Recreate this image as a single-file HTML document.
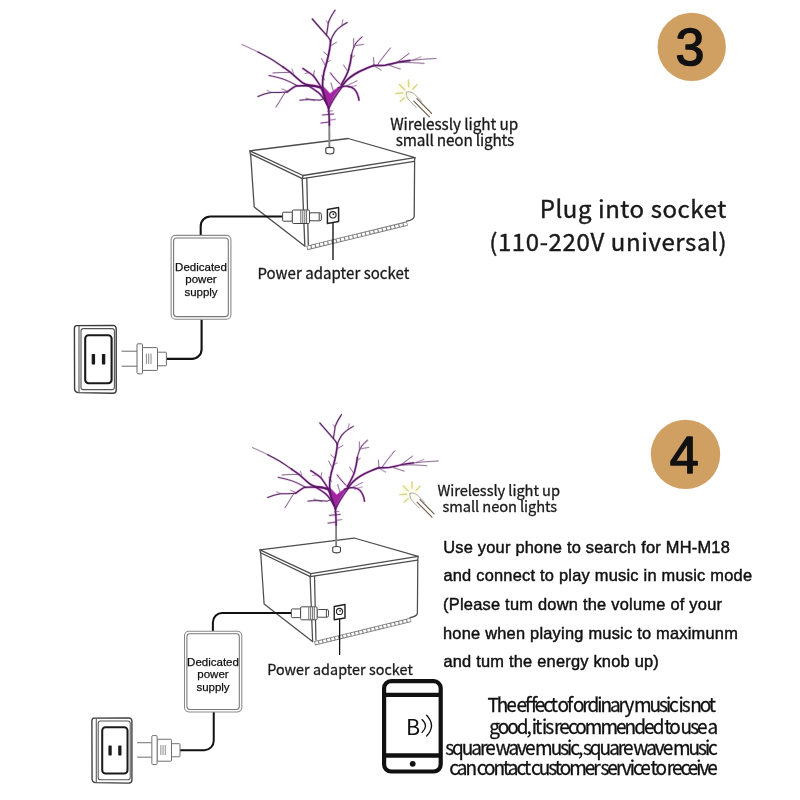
<!DOCTYPE html>
<html><head><meta charset="utf-8"><title>Steps 3 and 4</title>
<style>
html,body{margin:0;padding:0;background:#fff;}
body{width:800px;height:800px;overflow:hidden;}
svg{display:block;will-change:transform;}
</style></head><body>
<svg width="800" height="800" viewBox="0 0 800 800">
<rect width="800" height="800" fill="#fff"/>
<g><g fill="none" stroke="#4d4d4d" stroke-width="1.3" stroke-linejoin="round" stroke-linecap="round"><path d="M249.8,150.8 L348.2,138.5 L415,157.6 L303,175.5 Z"/><path d="M250.4,153.8 L302.4,178.6 L414.4,161.4"/><path d="M249.8,150.8 L250.4,153.8 M415,157.6 L414.4,161.4 M303,175.5 L302.4,178.6"/><path d="M250.6,153.8 L254.2,207 L305,246.2"/><path d="M302.2,178.6 L304.8,245.4 M306.8,178 L308.3,244.6"/><path d="M414.6,161.4 L414.2,216.5 C414,219 411,220.4 406.5,221.2"/></g><path d="M306.8,247.9 L407.4,223.6" stroke="#7c7c7c" stroke-width="4.6" fill="none"/><path d="M307.6,247.7 L407,223.7" stroke="#fff" stroke-width="2.7" stroke-dasharray="3.2 1.1" stroke-linecap="butt" fill="none"/><path d="M329.4,147.4 L329.3,124" stroke="#808080" stroke-width="1.9" fill="none"/><path d="M325.8,148.6 C325.8,147 333.9,147 333.9,148.6 L333.9,152 C333.9,154.6 325.8,154.6 325.8,152 Z" fill="#fff" stroke="#3a3a3a" stroke-width="1.1"/><g fill="none" stroke-linecap="round" stroke-linejoin="round"><g stroke="#b23ab0"><path d="M329.4,125 L329.2,118 L328.6,108" stroke-width="2.6" opacity="0.45"/><path d="M322.5,115 L333.5,114" stroke-width="2.2" opacity="0.28"/><path d="M329,120.2 L335.2,119.4" stroke-width="2.1" opacity="0.15"/><path d="M321,123 L329.2,122" stroke-width="2.2" opacity="0.28"/><path d="M327.4,111.2 L332.2,110.8" stroke-width="2.0" opacity="0.15"/><path d="M328.5,109 C326.6,103 324.4,98 323.2,93 L322.4,86 L325,88.6 L330,93.8 L335.5,89.4 L342.4,85.4 C338.5,89.5 334.5,95 331.5,101 C330.4,103.6 329.4,106.4 328.5,109 Z" fill="#b23ab0" stroke="#b23ab0" stroke-width="1.4" opacity=".55"/><path d="M324.4,96.5 C323.6,93 322.4,90 321,88 C316,85.6 311,85.6 307,85" stroke-width="3.0" opacity="0.55"/><path d="M307,85 C303,83.4 300,81.2 298,79 C295,76.5 292.5,74 290,72 C287.5,70 285.4,68.6 283,67" stroke-width="2.6" opacity="0.45"/><path d="M283,67 C279,64.4 275,61.5 271,59 C266.5,56.4 262,54 258,52" stroke-width="2.35" opacity="0.28"/><path d="M258,52 C252.5,49.4 247,46.6 242,44.5" stroke-width="2.0" opacity="0.15"/><path d="M327,104.5 C324.5,99.5 321.5,95 318,92.2 C314.5,89.6 311,87.4 307,85" stroke-width="2.6" opacity="0.45"/><path d="M321,87.4 C316,86 312,85.6 308,85.5 C303.5,85.5 299.5,85.6 296,86 C292.5,87.6 290,90 287,92" stroke-width="2.5" opacity="0.45"/><path d="M287,92 C281.5,92.8 276,92.2 271,92.5 C266.5,93.2 262,94.6 258,96.5" stroke-width="2.25" opacity="0.28"/><path d="M285.4,92.2 C283,95.5 281,99 279.5,101.5 L276,107" stroke-width="2.15" opacity="0.15"/><path d="M273,73 C279,72.3 284.5,72.6 290,72.4" stroke-width="2.1" opacity="0.15"/><path d="M269,75.5 C274,76.4 278.5,77.6 283,79 C287,80.4 291,82.4 294,84 L297,85.6" stroke-width="2.2" opacity="0.28"/><path d="M292,69 L293.5,73.2" stroke-width="1.9" opacity="0.15"/><path d="M282,89 L288,91.5" stroke-width="2.0" opacity="0.15"/><path d="M271,92.4 L267,90.4" stroke-width="1.9" opacity="0.15"/><path d="M321,87 C318.5,83 316,79 313.5,76 C310,73 306,70.5 303,68.5" stroke-width="2.5" opacity="0.45"/><path d="M313.5,76 L314.3,70.8" stroke-width="2.0" opacity="0.15"/><path d="M309,72.6 L305,73.6" stroke-width="1.9" opacity="0.15"/><path d="M300,100.2 C306,99.2 313,99.6 320,100.2 L325,98" stroke-width="2.2" opacity="0.28"/><path d="M306,98.2 L314.5,100.6" stroke-width="2.0" opacity="0.15"/><path d="M328.5,108 C326.5,102 324.5,97 323.3,92 C322.5,88 322.3,84 322.7,80 L323,78" stroke-width="2.7" opacity="0.45"/><path d="M323,78 C323.6,73 324.6,69 326,65 C327.4,60 328.6,55 329.5,50 C330.1,46 330.6,43 330.6,41" stroke-width="2.7" opacity="0.45"/><path d="M330.6,41 C329.5,38.5 327.5,36 325.4,33.9 C321,29 316.5,24 312.3,19" stroke-width="2.4" opacity="0.28"/><path d="M326.4,35 C327.3,31 327.8,27 328.4,22.5 C330,18 332.5,14 335,10.3" stroke-width="2.3" opacity="0.28"/><path d="M326.3,20.8 L328,23.4" stroke-width="1.9" opacity="0.15"/><path d="M330.6,41 C331.8,37.5 333.3,34.6 335,32.1 C336.5,30 338.5,28.2 340.3,26.9 C342.5,25.2 345,23.8 347.2,22.5" stroke-width="2.3" opacity="0.28"/><path d="M342,24.3 L342.9,19.9" stroke-width="1.9" opacity="0.15"/><path d="M323.8,52 L327.8,55.6" stroke-width="2.0" opacity="0.15"/><path d="M321.6,58.6 L325,65" stroke-width="2.0" opacity="0.15"/><path d="M331.2,45.4 L336.4,42.3" stroke-width="2.0" opacity="0.15"/><path d="M324.6,80 L321.8,75.5" stroke-width="2.0" opacity="0.15"/><path d="M326.6,62.5 L330.4,60.5" stroke-width="1.9" opacity="0.15"/><path d="M329,108 C331.6,102 335.6,95.4 342.4,86.4" stroke-width="2.5" opacity="0.45"/><path d="M342,86 C343.5,84 345,82 347,80 C349.5,77.6 352,75.8 355,74 C358,72.2 361.5,70.4 365,69 C368,67.6 371,66.4 374,65.5" stroke-width="2.8" opacity="0.45"/><path d="M374,65.5 C378,65.4 381.5,65.6 385,65.2 C389,64.6 393,63.4 397,62.5 C401.5,61.7 406,61 410,60.5" stroke-width="2.6" opacity="0.45"/><path d="M410,60.5 C418,59.6 427,58.9 436,58.5" stroke-width="2.1" opacity="0.15"/><path d="M377.5,64.8 C379.6,61.6 381.8,58.8 384,56 C386.2,53.2 388.4,50.6 390.4,48" stroke-width="2.1" opacity="0.15"/><path d="M397,62.5 C401,59.5 405,56.5 409,53.5" stroke-width="2.1" opacity="0.15"/><path d="M374,65.5 L373.5,57.6" stroke-width="2.0" opacity="0.15"/><path d="M389.5,65.4 C393,66.6 396.5,67.8 400.2,69" stroke-width="2.1" opacity="0.15"/><path d="M399,62.6 C407,62.2 416,62.8 424,63.4" stroke-width="2.1" opacity="0.15"/><path d="M413,60 L421,56.8" stroke-width="1.9" opacity="0.15"/><path d="M375,66.4 L381,70" stroke-width="2.0" opacity="0.15"/><path d="M341,85 C344,80 347,75 348.5,70 C350,65 351,60 351.5,55" stroke-width="2.6" opacity="0.45"/><path d="M351.5,55 C352.5,50 354,46.5 356,43 C358,40.5 360,38.5 362,37" stroke-width="2.2" opacity="0.28"/><path d="M353.6,47.5 L353.7,38.6" stroke-width="2.0" opacity="0.15"/><path d="M356,45.6 L363.4,44.4" stroke-width="2.0" opacity="0.15"/><path d="M347.8,71.5 L343.6,65" stroke-width="2.0" opacity="0.15"/><path d="M351,58 L354.5,55.8" stroke-width="1.9" opacity="0.15"/><path d="M338,88 C344,85 351,86 354.2,89 C357,92 358.4,96 359,100.2" stroke-width="2.5" opacity="0.45"/><path d="M339.5,83.6 C336,80 333,76.5 330.5,73" stroke-width="2.2" opacity="0.28"/><path d="M347,85.6 L357,80.8" stroke-width="2.0" opacity="0.15"/><path d="M349,87.6 L356.5,85.4" stroke-width="1.9" opacity="0.15"/><path d="M333.2,90.5 L331,83" stroke-width="2.0" opacity="0.15"/></g><path d="M329.4,125 L329.2,118 L328.6,108" stroke="#521860" stroke-width="1.4" opacity="1"/><path d="M322.5,115 L333.5,114" stroke="#432051" stroke-width="1.0" opacity="0.7"/><path d="M329,120.2 L335.2,119.4" stroke="#5a4468" stroke-width="0.9" opacity="0.65"/><path d="M321,123 L329.2,122" stroke="#432051" stroke-width="1.0" opacity="0.7"/><path d="M327.4,111.2 L332.2,110.8" stroke="#5a4468" stroke-width="0.8" opacity="0.7"/><path d="M328.5,109 C326.6,103 324.4,98 323.2,93 L322.4,86 L325,88.6 L330,93.8 L335.5,89.4 L342.4,85.4 C338.5,89.5 334.5,95 331.5,101 C330.4,103.6 329.4,106.4 328.5,109 Z" fill="#a224a1" opacity="1"/><path d="M324.4,96.5 C323.6,93 322.4,90 321,88 C316,85.6 311,85.6 307,85" stroke="#74187e" stroke-width="1.8" opacity="1"/><path d="M307,85 C303,83.4 300,81.2 298,79 C295,76.5 292.5,74 290,72 C287.5,70 285.4,68.6 283,67" stroke="#521860" stroke-width="1.4" opacity="1"/><path d="M283,67 C279,64.4 275,61.5 271,59 C266.5,56.4 262,54 258,52" stroke="#432051" stroke-width="1.15" opacity="0.95"/><path d="M258,52 C252.5,49.4 247,46.6 242,44.5" stroke="#5a4468" stroke-width="0.8" opacity="0.75"/><path d="M327,104.5 C324.5,99.5 321.5,95 318,92.2 C314.5,89.6 311,87.4 307,85" stroke="#521860" stroke-width="1.4" opacity="0.95"/><path d="M321,87.4 C316,86 312,85.6 308,85.5 C303.5,85.5 299.5,85.6 296,86 C292.5,87.6 290,90 287,92" stroke="#521860" stroke-width="1.3" opacity="1"/><path d="M287,92 C281.5,92.8 276,92.2 271,92.5 C266.5,93.2 262,94.6 258,96.5" stroke="#432051" stroke-width="1.05" opacity="0.9"/><path d="M285.4,92.2 C283,95.5 281,99 279.5,101.5 L276,107" stroke="#5a4468" stroke-width="0.95" opacity="0.85"/><path d="M273,73 C279,72.3 284.5,72.6 290,72.4" stroke="#5a4468" stroke-width="0.9" opacity="0.8"/><path d="M269,75.5 C274,76.4 278.5,77.6 283,79 C287,80.4 291,82.4 294,84 L297,85.6" stroke="#432051" stroke-width="1.0" opacity="0.85"/><path d="M292,69 L293.5,73.2" stroke="#5a4468" stroke-width="0.7" opacity="0.7"/><path d="M282,89 L288,91.5" stroke="#5a4468" stroke-width="0.8" opacity="0.7"/><path d="M271,92.4 L267,90.4" stroke="#5a4468" stroke-width="0.7" opacity="0.6"/><path d="M321,87 C318.5,83 316,79 313.5,76 C310,73 306,70.5 303,68.5" stroke="#521860" stroke-width="1.3" opacity="0.95"/><path d="M313.5,76 L314.3,70.8" stroke="#5a4468" stroke-width="0.8" opacity="0.8"/><path d="M309,72.6 L305,73.6" stroke="#5a4468" stroke-width="0.7" opacity="0.7"/><path d="M300,100.2 C306,99.2 313,99.6 320,100.2 L325,98" stroke="#432051" stroke-width="1.0" opacity="0.85"/><path d="M306,98.2 L314.5,100.6" stroke="#5a4468" stroke-width="0.8" opacity="0.7"/><path d="M328.5,108 C326.5,102 324.5,97 323.3,92 C322.5,88 322.3,84 322.7,80 L323,78" stroke="#521860" stroke-width="1.5" opacity="1"/><path d="M323,78 C323.6,73 324.6,69 326,65 C327.4,60 328.6,55 329.5,50 C330.1,46 330.6,43 330.6,41" stroke="#521860" stroke-width="1.5" opacity="1"/><path d="M330.6,41 C329.5,38.5 327.5,36 325.4,33.9 C321,29 316.5,24 312.3,19" stroke="#432051" stroke-width="1.2" opacity="0.95"/><path d="M326.4,35 C327.3,31 327.8,27 328.4,22.5 C330,18 332.5,14 335,10.3" stroke="#432051" stroke-width="1.1" opacity="0.9"/><path d="M326.3,20.8 L328,23.4" stroke="#5a4468" stroke-width="0.7" opacity="0.7"/><path d="M330.6,41 C331.8,37.5 333.3,34.6 335,32.1 C336.5,30 338.5,28.2 340.3,26.9 C342.5,25.2 345,23.8 347.2,22.5" stroke="#432051" stroke-width="1.1" opacity="0.9"/><path d="M342,24.3 L342.9,19.9" stroke="#5a4468" stroke-width="0.7" opacity="0.7"/><path d="M323.8,52 L327.8,55.6" stroke="#5a4468" stroke-width="0.8" opacity="0.8"/><path d="M321.6,58.6 L325,65" stroke="#5a4468" stroke-width="0.8" opacity="0.8"/><path d="M331.2,45.4 L336.4,42.3" stroke="#5a4468" stroke-width="0.8" opacity="0.8"/><path d="M324.6,80 L321.8,75.5" stroke="#5a4468" stroke-width="0.8" opacity="0.8"/><path d="M326.6,62.5 L330.4,60.5" stroke="#5a4468" stroke-width="0.7" opacity="0.7"/><path d="M329,108 C331.6,102 335.6,95.4 342.4,86.4" stroke="#521860" stroke-width="1.3" opacity="0.9"/><path d="M342,86 C343.5,84 345,82 347,80 C349.5,77.6 352,75.8 355,74 C358,72.2 361.5,70.4 365,69 C368,67.6 371,66.4 374,65.5" stroke="#521860" stroke-width="1.6" opacity="1"/><path d="M374,65.5 C378,65.4 381.5,65.6 385,65.2 C389,64.6 393,63.4 397,62.5 C401.5,61.7 406,61 410,60.5" stroke="#521860" stroke-width="1.4" opacity="1"/><path d="M410,60.5 C418,59.6 427,58.9 436,58.5" stroke="#5a4468" stroke-width="0.9" opacity="0.75"/><path d="M377.5,64.8 C379.6,61.6 381.8,58.8 384,56 C386.2,53.2 388.4,50.6 390.4,48" stroke="#5a4468" stroke-width="0.9" opacity="0.85"/><path d="M397,62.5 C401,59.5 405,56.5 409,53.5" stroke="#5a4468" stroke-width="0.9" opacity="0.85"/><path d="M374,65.5 L373.5,57.6" stroke="#5a4468" stroke-width="0.8" opacity="0.8"/><path d="M389.5,65.4 C393,66.6 396.5,67.8 400.2,69" stroke="#5a4468" stroke-width="0.9" opacity="0.75"/><path d="M399,62.6 C407,62.2 416,62.8 424,63.4" stroke="#5a4468" stroke-width="0.9" opacity="0.7"/><path d="M413,60 L421,56.8" stroke="#5a4468" stroke-width="0.7" opacity="0.6"/><path d="M375,66.4 L381,70" stroke="#5a4468" stroke-width="0.8" opacity="0.7"/><path d="M341,85 C344,80 347,75 348.5,70 C350,65 351,60 351.5,55" stroke="#521860" stroke-width="1.4" opacity="1"/><path d="M351.5,55 C352.5,50 354,46.5 356,43 C358,40.5 360,38.5 362,37" stroke="#432051" stroke-width="1.0" opacity="0.9"/><path d="M353.6,47.5 L353.7,38.6" stroke="#5a4468" stroke-width="0.8" opacity="0.8"/><path d="M356,45.6 L363.4,44.4" stroke="#5a4468" stroke-width="0.8" opacity="0.8"/><path d="M347.8,71.5 L343.6,65" stroke="#5a4468" stroke-width="0.8" opacity="0.8"/><path d="M351,58 L354.5,55.8" stroke="#5a4468" stroke-width="0.7" opacity="0.7"/><path d="M338,88 C344,85 351,86 354.2,89 C357,92 358.4,96 359,100.2" stroke="#521860" stroke-width="1.3" opacity="0.95"/><path d="M339.5,83.6 C336,80 333,76.5 330.5,73" stroke="#432051" stroke-width="1.0" opacity="0.85"/><path d="M347,85.6 L357,80.8" stroke="#5a4468" stroke-width="0.8" opacity="0.7"/><path d="M349,87.6 L356.5,85.4" stroke="#5a4468" stroke-width="0.7" opacity="0.6"/><path d="M333.2,90.5 L331,83" stroke="#5a4468" stroke-width="0.8" opacity="0.8"/></g><g fill="none" stroke="#111" stroke-width="2.1"><path d="M282.6,216.5 H210.4 A9.7,9.7 0 0 0 200.7,226.2 V235.4"/><path d="M201.6,319.4 V349.2 A9.7,9.7 0 0 1 191.9,358.9 H166.4"/></g><g fill="#fff" stroke="#444" stroke-width="1" stroke-linejoin="round"><rect x="282.6" y="212.2" width="9.8" height="9" rx="1"/><rect x="309.4" y="212.8" width="12" height="8" rx="1.6"/><path d="M319.2,213 V220.6" /><rect x="292.3" y="210" width="17.2" height="13.5" rx="1.2"/><path d="M300.8,210.4 V223.2 M302.8,210.4 V223.2 M304.8,210.4 V223.2 M306.6,210.4 V223.2" stroke-width=".8"/></g><path d="M327.4,209.6 L338.6,207.6 L338.6,221.6 L327.4,223.4 Z" fill="#fff" stroke="#222" stroke-width="1.5" stroke-linejoin="round"/><circle cx="332.9" cy="214.8" r="3.2" fill="none" stroke="#222" stroke-width="1.1"/><circle cx="333.4" cy="214.2" r=".9" fill="#222"/><path d="M333,222.8 V260" stroke="#111" stroke-width="1.35" fill="none"/><rect x="171.1" y="235.4" width="59.8" height="83.8" rx="4.5" fill="#fff" stroke="#8a8a8a" stroke-width="1.1"/><rect x="173.6" y="238" width="54.7" height="78.6" rx="3" fill="none" stroke="#777" stroke-width="1.1"/><g font-family='"Liberation Sans",sans-serif' font-size="11.5" fill="#111" stroke="#111" stroke-width=".25" text-anchor="middle"><text x="201" y="270.8">Dedicated</text><text x="201" y="283.4">power</text><text x="201" y="296.0">supply</text></g><g fill="#fff" stroke="#6a6a6a" stroke-width="1" stroke-linejoin="round"><path d="M121.6,351.2 H137 M121.6,366.2 H137" /><rect x="157.4" y="352.2" width="9" height="13.6" rx=".8"/><rect x="142.4" y="347.6" width="15.1" height="22.8" rx="1"/><rect x="137" y="343.8" width="5.5" height="30" rx="1"/><path d="M146.4,353.6 V364 M148.7,353.6 V364 M151,353.6 V364" stroke-width=".8"/></g><g fill="none" stroke-linejoin="round"><path d="M76.5,325.6 L113,325.4 Q116.2,325.6 116.2,329 L116.2,390 Q116.2,393.2 113,393.2 L78,392.6 Q74.6,392 74.6,388.6 L74.4,329 Q74.4,325.6 76.5,325.6 Z" fill="#fff" stroke="#3a3a3a" stroke-width="1.4"/><path d="M79,326 L79,392.4" stroke="#555" stroke-width="1.1"/><rect x="81" y="328.6" width="33.4" height="61" rx="2.4" stroke="#555" stroke-width="1.1"/><rect x="85.2" y="335.2" width="26.4" height="48" rx="3.4" stroke="#1a1a1a" stroke-width="2.1" fill="#fff"/><rect x="91.7" y="354" width="3.4" height="10.4" rx=".6" fill="#1a1a1a"/><rect x="101.9" y="354" width="3.4" height="10.4" rx=".6" fill="#1a1a1a"/></g><circle cx="405.8" cy="90.8" r="9.5" fill="#fcfadf" opacity=".6"/><g stroke="#d9d588" stroke-width="1.5" stroke-linecap="round" fill="none"><path d="M399.5,84.5 L404.6,89.6 M408.4,79.9 L408.7,86.8 M417,84.8 L412.9,88.9 M395.8,93.4 L402.8,93.1 M400.4,101.4 L404.4,97.8"/></g><path d="M406.5,92.2 C409.5,90.8 413.2,92.8 415.6,95.2 L422,101.6 M406.5,92.2 C405.6,95 407.2,98.4 409.6,100.8 L416.2,107.4" fill="none" stroke="#a3a3a3" stroke-width="1" stroke-linecap="round"/><path d="M413.8,101.2 L429.4,116.9 M416.9,98.7 L431.6,113.4" stroke="#6a5a48" stroke-width="1.15" fill="none" stroke-linecap="round"/><text x="257.4" y="279" font-family='"Noto Sans CJK SC","Liberation Sans",sans-serif' font-size="15" fill="#1a1a1a" stroke="#1a1a1a" stroke-width=".3" textLength="152" lengthAdjust="spacing">Power adapter socket</text><text x="390.2" y="130.4" font-family='"Noto Sans CJK SC","Liberation Sans",sans-serif' font-size="15.3" fill="#1a1a1a" stroke="#1a1a1a" stroke-width=".3" textLength="128" lengthAdjust="spacing">Wirelessly light up</text><text x="395.8" y="146" font-family='"Noto Sans CJK SC","Liberation Sans",sans-serif' font-size="15.3" fill="#1a1a1a" stroke="#1a1a1a" stroke-width=".3" textLength="118.4" lengthAdjust="spacing">small neon lights</text></g>
<g transform="translate(20.6,404.7) scale(0.958,0.9625)"><g fill="none" stroke="#4d4d4d" stroke-width="1.3" stroke-linejoin="round" stroke-linecap="round"><path d="M249.8,150.8 L348.2,138.5 L415,157.6 L303,175.5 Z"/><path d="M250.4,153.8 L302.4,178.6 L414.4,161.4"/><path d="M249.8,150.8 L250.4,153.8 M415,157.6 L414.4,161.4 M303,175.5 L302.4,178.6"/><path d="M250.6,153.8 L254.2,207 L305,246.2"/><path d="M302.2,178.6 L304.8,245.4 M306.8,178 L308.3,244.6"/><path d="M414.6,161.4 L414.2,216.5 C414,219 411,220.4 406.5,221.2"/></g><path d="M306.8,247.9 L407.4,223.6" stroke="#7c7c7c" stroke-width="4.6" fill="none"/><path d="M307.6,247.7 L407,223.7" stroke="#fff" stroke-width="2.7" stroke-dasharray="3.2 1.1" stroke-linecap="butt" fill="none"/><path d="M329.4,147.4 L329.3,124" stroke="#808080" stroke-width="1.9" fill="none"/><path d="M325.8,148.6 C325.8,147 333.9,147 333.9,148.6 L333.9,152 C333.9,154.6 325.8,154.6 325.8,152 Z" fill="#fff" stroke="#3a3a3a" stroke-width="1.1"/><g fill="none" stroke-linecap="round" stroke-linejoin="round"><g stroke="#b23ab0"><path d="M329.4,125 L329.2,118 L328.6,108" stroke-width="2.6" opacity="0.45"/><path d="M322.5,115 L333.5,114" stroke-width="2.2" opacity="0.28"/><path d="M329,120.2 L335.2,119.4" stroke-width="2.1" opacity="0.15"/><path d="M321,123 L329.2,122" stroke-width="2.2" opacity="0.28"/><path d="M327.4,111.2 L332.2,110.8" stroke-width="2.0" opacity="0.15"/><path d="M328.5,109 C326.6,103 324.4,98 323.2,93 L322.4,86 L325,88.6 L330,93.8 L335.5,89.4 L342.4,85.4 C338.5,89.5 334.5,95 331.5,101 C330.4,103.6 329.4,106.4 328.5,109 Z" fill="#b23ab0" stroke="#b23ab0" stroke-width="1.4" opacity=".55"/><path d="M324.4,96.5 C323.6,93 322.4,90 321,88 C316,85.6 311,85.6 307,85" stroke-width="3.0" opacity="0.55"/><path d="M307,85 C303,83.4 300,81.2 298,79 C295,76.5 292.5,74 290,72 C287.5,70 285.4,68.6 283,67" stroke-width="2.6" opacity="0.45"/><path d="M283,67 C279,64.4 275,61.5 271,59 C266.5,56.4 262,54 258,52" stroke-width="2.35" opacity="0.28"/><path d="M258,52 C252.5,49.4 247,46.6 242,44.5" stroke-width="2.0" opacity="0.15"/><path d="M327,104.5 C324.5,99.5 321.5,95 318,92.2 C314.5,89.6 311,87.4 307,85" stroke-width="2.6" opacity="0.45"/><path d="M321,87.4 C316,86 312,85.6 308,85.5 C303.5,85.5 299.5,85.6 296,86 C292.5,87.6 290,90 287,92" stroke-width="2.5" opacity="0.45"/><path d="M287,92 C281.5,92.8 276,92.2 271,92.5 C266.5,93.2 262,94.6 258,96.5" stroke-width="2.25" opacity="0.28"/><path d="M285.4,92.2 C283,95.5 281,99 279.5,101.5 L276,107" stroke-width="2.15" opacity="0.15"/><path d="M273,73 C279,72.3 284.5,72.6 290,72.4" stroke-width="2.1" opacity="0.15"/><path d="M269,75.5 C274,76.4 278.5,77.6 283,79 C287,80.4 291,82.4 294,84 L297,85.6" stroke-width="2.2" opacity="0.28"/><path d="M292,69 L293.5,73.2" stroke-width="1.9" opacity="0.15"/><path d="M282,89 L288,91.5" stroke-width="2.0" opacity="0.15"/><path d="M271,92.4 L267,90.4" stroke-width="1.9" opacity="0.15"/><path d="M321,87 C318.5,83 316,79 313.5,76 C310,73 306,70.5 303,68.5" stroke-width="2.5" opacity="0.45"/><path d="M313.5,76 L314.3,70.8" stroke-width="2.0" opacity="0.15"/><path d="M309,72.6 L305,73.6" stroke-width="1.9" opacity="0.15"/><path d="M300,100.2 C306,99.2 313,99.6 320,100.2 L325,98" stroke-width="2.2" opacity="0.28"/><path d="M306,98.2 L314.5,100.6" stroke-width="2.0" opacity="0.15"/><path d="M328.5,108 C326.5,102 324.5,97 323.3,92 C322.5,88 322.3,84 322.7,80 L323,78" stroke-width="2.7" opacity="0.45"/><path d="M323,78 C323.6,73 324.6,69 326,65 C327.4,60 328.6,55 329.5,50 C330.1,46 330.6,43 330.6,41" stroke-width="2.7" opacity="0.45"/><path d="M330.6,41 C329.5,38.5 327.5,36 325.4,33.9 C321,29 316.5,24 312.3,19" stroke-width="2.4" opacity="0.28"/><path d="M326.4,35 C327.3,31 327.8,27 328.4,22.5 C330,18 332.5,14 335,10.3" stroke-width="2.3" opacity="0.28"/><path d="M326.3,20.8 L328,23.4" stroke-width="1.9" opacity="0.15"/><path d="M330.6,41 C331.8,37.5 333.3,34.6 335,32.1 C336.5,30 338.5,28.2 340.3,26.9 C342.5,25.2 345,23.8 347.2,22.5" stroke-width="2.3" opacity="0.28"/><path d="M342,24.3 L342.9,19.9" stroke-width="1.9" opacity="0.15"/><path d="M323.8,52 L327.8,55.6" stroke-width="2.0" opacity="0.15"/><path d="M321.6,58.6 L325,65" stroke-width="2.0" opacity="0.15"/><path d="M331.2,45.4 L336.4,42.3" stroke-width="2.0" opacity="0.15"/><path d="M324.6,80 L321.8,75.5" stroke-width="2.0" opacity="0.15"/><path d="M326.6,62.5 L330.4,60.5" stroke-width="1.9" opacity="0.15"/><path d="M329,108 C331.6,102 335.6,95.4 342.4,86.4" stroke-width="2.5" opacity="0.45"/><path d="M342,86 C343.5,84 345,82 347,80 C349.5,77.6 352,75.8 355,74 C358,72.2 361.5,70.4 365,69 C368,67.6 371,66.4 374,65.5" stroke-width="2.8" opacity="0.45"/><path d="M374,65.5 C378,65.4 381.5,65.6 385,65.2 C389,64.6 393,63.4 397,62.5 C401.5,61.7 406,61 410,60.5" stroke-width="2.6" opacity="0.45"/><path d="M410,60.5 C418,59.6 427,58.9 436,58.5" stroke-width="2.1" opacity="0.15"/><path d="M377.5,64.8 C379.6,61.6 381.8,58.8 384,56 C386.2,53.2 388.4,50.6 390.4,48" stroke-width="2.1" opacity="0.15"/><path d="M397,62.5 C401,59.5 405,56.5 409,53.5" stroke-width="2.1" opacity="0.15"/><path d="M374,65.5 L373.5,57.6" stroke-width="2.0" opacity="0.15"/><path d="M389.5,65.4 C393,66.6 396.5,67.8 400.2,69" stroke-width="2.1" opacity="0.15"/><path d="M399,62.6 C407,62.2 416,62.8 424,63.4" stroke-width="2.1" opacity="0.15"/><path d="M413,60 L421,56.8" stroke-width="1.9" opacity="0.15"/><path d="M375,66.4 L381,70" stroke-width="2.0" opacity="0.15"/><path d="M341,85 C344,80 347,75 348.5,70 C350,65 351,60 351.5,55" stroke-width="2.6" opacity="0.45"/><path d="M351.5,55 C352.5,50 354,46.5 356,43 C358,40.5 360,38.5 362,37" stroke-width="2.2" opacity="0.28"/><path d="M353.6,47.5 L353.7,38.6" stroke-width="2.0" opacity="0.15"/><path d="M356,45.6 L363.4,44.4" stroke-width="2.0" opacity="0.15"/><path d="M347.8,71.5 L343.6,65" stroke-width="2.0" opacity="0.15"/><path d="M351,58 L354.5,55.8" stroke-width="1.9" opacity="0.15"/><path d="M338,88 C344,85 351,86 354.2,89 C357,92 358.4,96 359,100.2" stroke-width="2.5" opacity="0.45"/><path d="M339.5,83.6 C336,80 333,76.5 330.5,73" stroke-width="2.2" opacity="0.28"/><path d="M347,85.6 L357,80.8" stroke-width="2.0" opacity="0.15"/><path d="M349,87.6 L356.5,85.4" stroke-width="1.9" opacity="0.15"/><path d="M333.2,90.5 L331,83" stroke-width="2.0" opacity="0.15"/></g><path d="M329.4,125 L329.2,118 L328.6,108" stroke="#521860" stroke-width="1.4" opacity="1"/><path d="M322.5,115 L333.5,114" stroke="#432051" stroke-width="1.0" opacity="0.7"/><path d="M329,120.2 L335.2,119.4" stroke="#5a4468" stroke-width="0.9" opacity="0.65"/><path d="M321,123 L329.2,122" stroke="#432051" stroke-width="1.0" opacity="0.7"/><path d="M327.4,111.2 L332.2,110.8" stroke="#5a4468" stroke-width="0.8" opacity="0.7"/><path d="M328.5,109 C326.6,103 324.4,98 323.2,93 L322.4,86 L325,88.6 L330,93.8 L335.5,89.4 L342.4,85.4 C338.5,89.5 334.5,95 331.5,101 C330.4,103.6 329.4,106.4 328.5,109 Z" fill="#a224a1" opacity="1"/><path d="M324.4,96.5 C323.6,93 322.4,90 321,88 C316,85.6 311,85.6 307,85" stroke="#74187e" stroke-width="1.8" opacity="1"/><path d="M307,85 C303,83.4 300,81.2 298,79 C295,76.5 292.5,74 290,72 C287.5,70 285.4,68.6 283,67" stroke="#521860" stroke-width="1.4" opacity="1"/><path d="M283,67 C279,64.4 275,61.5 271,59 C266.5,56.4 262,54 258,52" stroke="#432051" stroke-width="1.15" opacity="0.95"/><path d="M258,52 C252.5,49.4 247,46.6 242,44.5" stroke="#5a4468" stroke-width="0.8" opacity="0.75"/><path d="M327,104.5 C324.5,99.5 321.5,95 318,92.2 C314.5,89.6 311,87.4 307,85" stroke="#521860" stroke-width="1.4" opacity="0.95"/><path d="M321,87.4 C316,86 312,85.6 308,85.5 C303.5,85.5 299.5,85.6 296,86 C292.5,87.6 290,90 287,92" stroke="#521860" stroke-width="1.3" opacity="1"/><path d="M287,92 C281.5,92.8 276,92.2 271,92.5 C266.5,93.2 262,94.6 258,96.5" stroke="#432051" stroke-width="1.05" opacity="0.9"/><path d="M285.4,92.2 C283,95.5 281,99 279.5,101.5 L276,107" stroke="#5a4468" stroke-width="0.95" opacity="0.85"/><path d="M273,73 C279,72.3 284.5,72.6 290,72.4" stroke="#5a4468" stroke-width="0.9" opacity="0.8"/><path d="M269,75.5 C274,76.4 278.5,77.6 283,79 C287,80.4 291,82.4 294,84 L297,85.6" stroke="#432051" stroke-width="1.0" opacity="0.85"/><path d="M292,69 L293.5,73.2" stroke="#5a4468" stroke-width="0.7" opacity="0.7"/><path d="M282,89 L288,91.5" stroke="#5a4468" stroke-width="0.8" opacity="0.7"/><path d="M271,92.4 L267,90.4" stroke="#5a4468" stroke-width="0.7" opacity="0.6"/><path d="M321,87 C318.5,83 316,79 313.5,76 C310,73 306,70.5 303,68.5" stroke="#521860" stroke-width="1.3" opacity="0.95"/><path d="M313.5,76 L314.3,70.8" stroke="#5a4468" stroke-width="0.8" opacity="0.8"/><path d="M309,72.6 L305,73.6" stroke="#5a4468" stroke-width="0.7" opacity="0.7"/><path d="M300,100.2 C306,99.2 313,99.6 320,100.2 L325,98" stroke="#432051" stroke-width="1.0" opacity="0.85"/><path d="M306,98.2 L314.5,100.6" stroke="#5a4468" stroke-width="0.8" opacity="0.7"/><path d="M328.5,108 C326.5,102 324.5,97 323.3,92 C322.5,88 322.3,84 322.7,80 L323,78" stroke="#521860" stroke-width="1.5" opacity="1"/><path d="M323,78 C323.6,73 324.6,69 326,65 C327.4,60 328.6,55 329.5,50 C330.1,46 330.6,43 330.6,41" stroke="#521860" stroke-width="1.5" opacity="1"/><path d="M330.6,41 C329.5,38.5 327.5,36 325.4,33.9 C321,29 316.5,24 312.3,19" stroke="#432051" stroke-width="1.2" opacity="0.95"/><path d="M326.4,35 C327.3,31 327.8,27 328.4,22.5 C330,18 332.5,14 335,10.3" stroke="#432051" stroke-width="1.1" opacity="0.9"/><path d="M326.3,20.8 L328,23.4" stroke="#5a4468" stroke-width="0.7" opacity="0.7"/><path d="M330.6,41 C331.8,37.5 333.3,34.6 335,32.1 C336.5,30 338.5,28.2 340.3,26.9 C342.5,25.2 345,23.8 347.2,22.5" stroke="#432051" stroke-width="1.1" opacity="0.9"/><path d="M342,24.3 L342.9,19.9" stroke="#5a4468" stroke-width="0.7" opacity="0.7"/><path d="M323.8,52 L327.8,55.6" stroke="#5a4468" stroke-width="0.8" opacity="0.8"/><path d="M321.6,58.6 L325,65" stroke="#5a4468" stroke-width="0.8" opacity="0.8"/><path d="M331.2,45.4 L336.4,42.3" stroke="#5a4468" stroke-width="0.8" opacity="0.8"/><path d="M324.6,80 L321.8,75.5" stroke="#5a4468" stroke-width="0.8" opacity="0.8"/><path d="M326.6,62.5 L330.4,60.5" stroke="#5a4468" stroke-width="0.7" opacity="0.7"/><path d="M329,108 C331.6,102 335.6,95.4 342.4,86.4" stroke="#521860" stroke-width="1.3" opacity="0.9"/><path d="M342,86 C343.5,84 345,82 347,80 C349.5,77.6 352,75.8 355,74 C358,72.2 361.5,70.4 365,69 C368,67.6 371,66.4 374,65.5" stroke="#521860" stroke-width="1.6" opacity="1"/><path d="M374,65.5 C378,65.4 381.5,65.6 385,65.2 C389,64.6 393,63.4 397,62.5 C401.5,61.7 406,61 410,60.5" stroke="#521860" stroke-width="1.4" opacity="1"/><path d="M410,60.5 C418,59.6 427,58.9 436,58.5" stroke="#5a4468" stroke-width="0.9" opacity="0.75"/><path d="M377.5,64.8 C379.6,61.6 381.8,58.8 384,56 C386.2,53.2 388.4,50.6 390.4,48" stroke="#5a4468" stroke-width="0.9" opacity="0.85"/><path d="M397,62.5 C401,59.5 405,56.5 409,53.5" stroke="#5a4468" stroke-width="0.9" opacity="0.85"/><path d="M374,65.5 L373.5,57.6" stroke="#5a4468" stroke-width="0.8" opacity="0.8"/><path d="M389.5,65.4 C393,66.6 396.5,67.8 400.2,69" stroke="#5a4468" stroke-width="0.9" opacity="0.75"/><path d="M399,62.6 C407,62.2 416,62.8 424,63.4" stroke="#5a4468" stroke-width="0.9" opacity="0.7"/><path d="M413,60 L421,56.8" stroke="#5a4468" stroke-width="0.7" opacity="0.6"/><path d="M375,66.4 L381,70" stroke="#5a4468" stroke-width="0.8" opacity="0.7"/><path d="M341,85 C344,80 347,75 348.5,70 C350,65 351,60 351.5,55" stroke="#521860" stroke-width="1.4" opacity="1"/><path d="M351.5,55 C352.5,50 354,46.5 356,43 C358,40.5 360,38.5 362,37" stroke="#432051" stroke-width="1.0" opacity="0.9"/><path d="M353.6,47.5 L353.7,38.6" stroke="#5a4468" stroke-width="0.8" opacity="0.8"/><path d="M356,45.6 L363.4,44.4" stroke="#5a4468" stroke-width="0.8" opacity="0.8"/><path d="M347.8,71.5 L343.6,65" stroke="#5a4468" stroke-width="0.8" opacity="0.8"/><path d="M351,58 L354.5,55.8" stroke="#5a4468" stroke-width="0.7" opacity="0.7"/><path d="M338,88 C344,85 351,86 354.2,89 C357,92 358.4,96 359,100.2" stroke="#521860" stroke-width="1.3" opacity="0.95"/><path d="M339.5,83.6 C336,80 333,76.5 330.5,73" stroke="#432051" stroke-width="1.0" opacity="0.85"/><path d="M347,85.6 L357,80.8" stroke="#5a4468" stroke-width="0.8" opacity="0.7"/><path d="M349,87.6 L356.5,85.4" stroke="#5a4468" stroke-width="0.7" opacity="0.6"/><path d="M333.2,90.5 L331,83" stroke="#5a4468" stroke-width="0.8" opacity="0.8"/></g><g fill="none" stroke="#111" stroke-width="2.1"><path d="M282.6,216.5 H210.4 A9.7,9.7 0 0 0 200.7,226.2 V235.4"/><path d="M201.6,319.4 V349.2 A9.7,9.7 0 0 1 191.9,358.9 H166.4"/></g><g fill="#fff" stroke="#444" stroke-width="1" stroke-linejoin="round"><rect x="282.6" y="212.2" width="9.8" height="9" rx="1"/><rect x="309.4" y="212.8" width="12" height="8" rx="1.6"/><path d="M319.2,213 V220.6" /><rect x="292.3" y="210" width="17.2" height="13.5" rx="1.2"/><path d="M300.8,210.4 V223.2 M302.8,210.4 V223.2 M304.8,210.4 V223.2 M306.6,210.4 V223.2" stroke-width=".8"/></g><path d="M327.4,209.6 L338.6,207.6 L338.6,221.6 L327.4,223.4 Z" fill="#fff" stroke="#222" stroke-width="1.5" stroke-linejoin="round"/><circle cx="332.9" cy="214.8" r="3.2" fill="none" stroke="#222" stroke-width="1.1"/><circle cx="333.4" cy="214.2" r=".9" fill="#222"/><path d="M333,222.8 V260" stroke="#111" stroke-width="1.35" fill="none"/><rect x="171.1" y="235.4" width="59.8" height="83.8" rx="4.5" fill="#fff" stroke="#8a8a8a" stroke-width="1.1"/><rect x="173.6" y="238" width="54.7" height="78.6" rx="3" fill="none" stroke="#777" stroke-width="1.1"/><g fill="#fff" stroke="#6a6a6a" stroke-width="1" stroke-linejoin="round"><path d="M121.6,351.2 H137 M121.6,366.2 H137" /><rect x="157.4" y="352.2" width="9" height="13.6" rx=".8"/><rect x="142.4" y="347.6" width="15.1" height="22.8" rx="1"/><rect x="137" y="343.8" width="5.5" height="30" rx="1"/><path d="M146.4,353.6 V364 M148.7,353.6 V364 M151,353.6 V364" stroke-width=".8"/></g><g fill="none" stroke-linejoin="round"><path d="M76.5,325.6 L113,325.4 Q116.2,325.6 116.2,329 L116.2,390 Q116.2,393.2 113,393.2 L78,392.6 Q74.6,392 74.6,388.6 L74.4,329 Q74.4,325.6 76.5,325.6 Z" fill="#fff" stroke="#3a3a3a" stroke-width="1.4"/><path d="M79,326 L79,392.4" stroke="#555" stroke-width="1.1"/><rect x="81" y="328.6" width="33.4" height="61" rx="2.4" stroke="#555" stroke-width="1.1"/><rect x="85.2" y="335.2" width="26.4" height="48" rx="3.4" stroke="#1a1a1a" stroke-width="2.1" fill="#fff"/><rect x="91.7" y="354" width="3.4" height="10.4" rx=".6" fill="#1a1a1a"/><rect x="101.9" y="354" width="3.4" height="10.4" rx=".6" fill="#1a1a1a"/></g><circle cx="405.8" cy="90.8" r="9.5" fill="#fcfadf" opacity=".6"/><g stroke="#d9d588" stroke-width="1.5" stroke-linecap="round" fill="none"><path d="M399.5,84.5 L404.6,89.6 M408.4,79.9 L408.7,86.8 M417,84.8 L412.9,88.9 M395.8,93.4 L402.8,93.1 M400.4,101.4 L404.4,97.8"/></g><path d="M406.5,92.2 C409.5,90.8 413.2,92.8 415.6,95.2 L422,101.6 M406.5,92.2 C405.6,95 407.2,98.4 409.6,100.8 L416.2,107.4" fill="none" stroke="#a3a3a3" stroke-width="1" stroke-linecap="round"/><path d="M413.8,101.2 L429.4,116.9 M416.9,98.7 L431.6,113.4" stroke="#6a5a48" stroke-width="1.15" fill="none" stroke-linecap="round"/><text x="257.4" y="280.6" font-family='"Noto Sans CJK SC","Liberation Sans",sans-serif' font-size="15" fill="#1a1a1a" stroke="#1a1a1a" stroke-width=".3" textLength="152" lengthAdjust="spacing">Power adapter socket</text><text x="435.1" y="95.0" font-family='"Noto Sans CJK SC","Liberation Sans",sans-serif' font-size="15.3" fill="#1a1a1a" stroke="#1a1a1a" stroke-width=".3" textLength="128" lengthAdjust="spacing">Wirelessly light up</text><text x="440.5" y="111.0" font-family='"Noto Sans CJK SC","Liberation Sans",sans-serif' font-size="15.3" fill="#1a1a1a" stroke="#1a1a1a" stroke-width=".3" textLength="119.6" lengthAdjust="spacing">small neon lights</text></g>
<g font-family='"Liberation Sans",sans-serif' font-size="11.5" fill="#111" stroke="#111" stroke-width=".25" text-anchor="middle"><text x="213" y="665.6">Dedicated</text><text x="213" y="678.2">power</text><text x="213" y="690.8">supply</text></g>

<circle cx="691.7" cy="46.9" r="34.2" fill="#d0a062"/>
<text x="690" y="65.2" font-family='"Liberation Sans",sans-serif' font-size="52" fill="#111" stroke="#111" stroke-width="1.5" stroke-linejoin="round" text-anchor="middle">3</text>
<circle cx="685.5" cy="454.4" r="34.7" fill="#d0a062"/>
<text x="684.2" y="472.6" font-family='"Liberation Sans",sans-serif' font-size="52" fill="#111" stroke="#111" stroke-width="1.5" stroke-linejoin="round" text-anchor="middle">4</text>
<g font-family='"Noto Sans CJK SC","Liberation Sans",sans-serif' font-size="24" fill="#1a1a1a" stroke="#1a1a1a" stroke-width=".4">
<text x="539.7" y="217.6" textLength="186.6" lengthAdjust="spacing">Plug into socket</text>
<text x="489.2" y="250.8" textLength="237.4" lengthAdjust="spacing">(110-220V universal)</text>
</g>
<g font-family='"Liberation Sans",sans-serif' font-size="16.4" fill="#111" stroke="#111" stroke-width=".45">
<text x="443.2" y="552.6" textLength="286.6" lengthAdjust="spacing">Use your phone to search for MH-M18</text>
<text x="443.4" y="581.3" textLength="308.6" lengthAdjust="spacing">and connect to play music in music mode</text>
<text x="443" y="610" textLength="279" lengthAdjust="spacing">(Please tum down the volume of your</text>
<text x="443" y="638.7" textLength="294.8" lengthAdjust="spacing">hone when playing music to maximunm</text>
<text x="443.4" y="667.2" textLength="215.4" lengthAdjust="spacing">and tum the energy knob up)</text>
</g>
<g font-family='"Noto Sans CJK SC","Liberation Sans",sans-serif' font-size="19" fill="#111" stroke="#111" stroke-width=".3" word-spacing="-0.5">
<text x="487.4" y="712.1" textLength="228.6" lengthAdjust="spacing">The effect of ordinary music is not</text>
<text x="489.2" y="733.5" textLength="229" lengthAdjust="spacing">good, it is recommended to use a</text>
<text x="445.2" y="754.7" textLength="272.6" lengthAdjust="spacing">square wave music, square wave music</text>
<text x="449.2" y="775.3" textLength="268.6" lengthAdjust="spacing">can contact customer service to receive</text>
</g>
<g fill="none" stroke="#111">
<rect x="384.1" y="681.1" width="56.6" height="90.4" rx="7" stroke-width="4.2"/>
<path d="M384,694.8 H441 M384,755.5 H441" stroke-width="4.3"/>
<path d="M422,719.6 Q429,726 422,732.4 M426.6,715.2 Q436.4,725.6 426.6,736" stroke-width="1.3" stroke-linecap="round"/>
</g>
<circle cx="412.7" cy="763.8" r="2.9" fill="#111"/>
<text x="406" y="734.5" font-family='"Noto Sans CJK SC","Liberation Sans",sans-serif' font-size="21.5" fill="#111">B</text>

</svg>
</body></html>
